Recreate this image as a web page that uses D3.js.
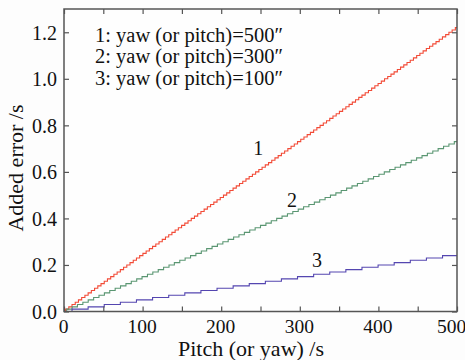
<!DOCTYPE html>
<html><head><meta charset="utf-8">
<script src="https://cdn.jsdelivr.net/npm/d3@7"></script>
<style>
html,body{margin:0;padding:0;background:#fdfdfd;}
text{font-family:"Liberation Serif","DejaVu Serif",serif;fill:#111;}
</style></head>
<body><svg id="c" width="465" height="360"></svg>
<script>
// ---- data ----
const xTicks = [0,50,100,150,200,250,300,350,400,450,500];
const xTickLabels = ["0","","100","","200","","300","","400","","500"];
const yTicks = [0,0.2,0.4,0.6,0.8,1.0,1.2];
const yTickLabels = ["0.0","0.2","0.4","0.6","0.8","1.0","1.2"];
const legendLines = ["1: yaw (or pitch)=500\u2033","2: yaw (or pitch)=300\u2033","3: yaw (or pitch)=100\u2033"];
const stepHeight = 0.01;
// x positions (s) where each curve steps up by stepHeight
const steps1 = [2.0,6.1,10.2,14.3,18.4,22.5,26.6,30.7,34.8,38.9,43.0,47.1,51.2,55.3,59.4,63.5,67.6,71.7,75.8,79.9,
 84.0,88.1,92.2,96.3,100.4,104.5,108.6,112.7,116.8,120.9,125.0,129.1,133.2,137.3,141.4,145.5,149.6,153.7,157.8,161.9,
 166.0,170.1,174.2,178.3,182.4,186.5,190.6,194.7,198.8,202.9,207.0,211.0,215.1,219.2,223.3,227.4,231.5,235.6,239.7,243.8,
 247.9,252.0,256.1,260.2,264.3,268.4,272.5,276.6,280.7,284.8,288.9,293.0,297.1,301.2,305.3,309.4,313.5,317.6,321.7,325.8,
 329.9,334.0,338.1,342.2,346.3,350.4,354.5,358.6,362.7,366.8,370.9,375.0,379.1,383.2,387.3,391.4,395.5,399.6,403.7,407.8,
 411.9,416.0,420.0,424.1,428.2,432.3,436.4,440.5,444.6,448.7,452.8,456.9,461.0,465.1,469.2,473.3,477.4,481.5,485.6,489.7,
 493.8,497.9];
const steps2 = [3.4,10.3,17.1,24.0,30.8,37.7,44.5,51.4,58.2,65.1,71.9,78.8,85.6,92.5,99.3,106.2,113.0,119.9,126.7,133.6,
 140.4,147.3,154.1,161.0,167.8,174.7,181.5,188.4,195.2,202.1,208.9,215.8,222.6,229.5,236.3,243.2,250.0,256.9,263.7,270.6,
 277.4,284.3,291.1,298.0,304.8,311.6,318.5,325.3,332.2,339.0,345.9,352.7,359.6,366.4,373.3,380.1,387.0,393.8,400.7,407.5,
 414.4,421.2,428.1,434.9,441.8,448.6,455.5,462.3,469.2,476.0,482.9,489.7,496.6];
const steps3 = [10.2,30.7,51.2,71.7,92.2,112.7,133.2,153.7,174.2,194.7,215.2,235.7,256.2,276.6,297.1,317.6,338.1,358.6,
 379.1,399.6,420.1,440.6,461.1,481.6];
const seriesNames = ["1","2","3"];
const seriesColors = ["#f24a36","#5a9672","#5446b0"];
const labelPos = [[247,0.672],[290,0.449],[322,0.191]];

// ---- layout ----
const svg = d3.select("#c");
const L=64, R=457, T=9, B=311.5;
const x = d3.scaleLinear().domain([0,500]).range([L,R]);
const y = d3.scaleLinear().domain([0,1.3]).range([B,T]);

svg.append("rect").attr("x",L).attr("y",T).attr("width",R-L).attr("height",B-T)
  .attr("fill","#fefefe");

const series = [steps1,steps2,steps3].map(s=>{
  const pts=[[0,0]];
  s.forEach((sx,i)=>pts.push([sx,(i+1)*stepHeight]));
  pts.push([500,s.length*stepHeight]);
  return pts;
});
const line = d3.line().x(d=>x(d[0])).y(d=>y(d[1])).curve(d3.curveStepAfter);
series.forEach((pts,i)=>{
  svg.append("path").datum(pts).attr("d",line).attr("fill","none")
    .attr("stroke",seriesColors[i]).attr("stroke-width",1.1);
});

// axes with inward ticks on all sides
const tickLen=5;
const ax = svg.append("g").attr("transform",`translate(0,${B})`)
  .call(d3.axisBottom(x).tickValues(xTicks).tickSize(-tickLen).tickPadding(8)
    .tickFormat((d,i)=>xTickLabels[i]));
const axT = svg.append("g").attr("transform",`translate(0,${T})`)
  .call(d3.axisTop(x).tickValues(xTicks).tickSize(-tickLen).tickFormat(""));
const ayL = svg.append("g").attr("transform",`translate(${L},0)`)
  .call(d3.axisLeft(y).tickValues(yTicks).tickSize(-tickLen).tickPadding(7)
    .tickFormat((d,i)=>yTickLabels[i]));
const ayR = svg.append("g").attr("transform",`translate(${R},0)`)
  .call(d3.axisRight(y).tickValues(yTicks).tickSize(-tickLen).tickFormat(""));
[ax,axT,ayL,ayR].forEach(g=>{
  g.select(".domain").remove();
  g.selectAll(".tick line").attr("stroke","#555").attr("stroke-width",1.2);
  g.selectAll("text").attr("font-size",20).attr("font-family","Liberation Serif").attr("fill","#111");
});
ax.selectAll("text").attr("font-size",19.5).attr("dy","0.71em").attr("dx",(d,i)=>i===xTicks.length-1?-6:-1);
ayL.selectAll("text").attr("dy","0.34em");
svg.append("rect").attr("x",L).attr("y",T).attr("width",R-L).attr("height",B-T)
  .attr("fill","none").attr("stroke","#555").attr("stroke-width",1.5);

// axis titles
svg.append("text").attr("x",251).attr("y",356).attr("text-anchor","middle")
  .attr("font-size",22).text("Pitch (or yaw) /s");
svg.append("text").attr("transform",`translate(23,168) rotate(-90)`)
  .attr("text-anchor","middle").attr("font-size",22).text("Added error /s");

// legend text
legendLines.forEach((t,i)=>{
  svg.append("text").attr("x",95).attr("y",41.5+i*21.5).attr("font-size",20.5).text(t);
});
// curve labels
seriesNames.forEach((n,i)=>{
  svg.append("text").attr("x",x(labelPos[i][0])).attr("y",y(labelPos[i][1]))
    .attr("text-anchor","middle").attr("font-size",20).text(n);
});
</script></body></html>
